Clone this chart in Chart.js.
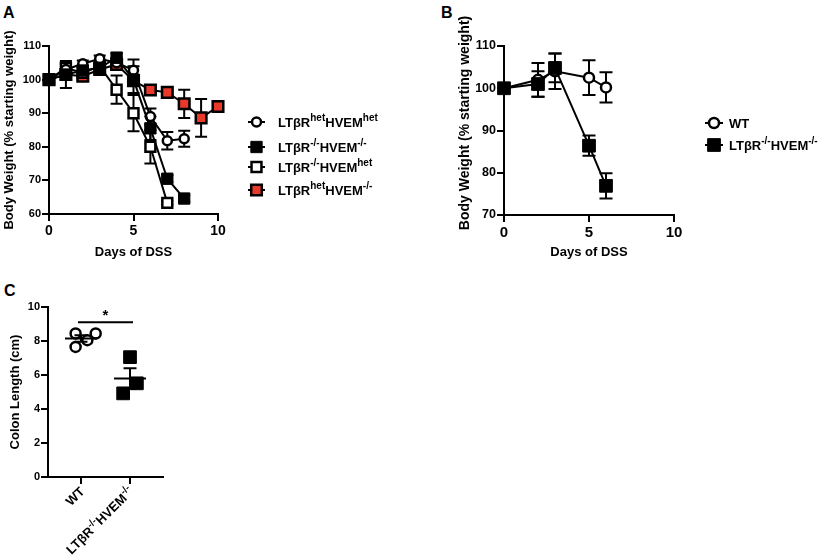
<!DOCTYPE html>
<html><head><meta charset="utf-8">
<script src="https://cdn.jsdelivr.net/npm/chart.js@4"></script>
<style>
html,body{margin:0;padding:0;background:#fff;width:829px;height:556px;overflow:hidden;position:relative}
canvas{position:absolute}
.lbl{position:absolute;font:bold 16px "Liberation Sans",Arial,sans-serif;color:#000;line-height:16px}
</style></head><body>
<div class="lbl" style="left:3px;top:5px">A</div>
<div class="lbl" style="left:441px;top:5px">B</div>
<div class="lbl" style="left:4px;top:283px">C</div>
<canvas id="cA" width="440" height="270" style="left:0;top:0"></canvas>
<canvas id="cB" width="389" height="270" style="left:440px;top:0"></canvas>
<canvas id="cC" width="240" height="286" style="left:0;top:270px"></canvas>
<script>
const FONT = '"Liberation Sans", Arial, sans-serif';

// ---------- Panel A data ----------
const daysA = [0,1,2,3,4,5,6,7,8,9,10];
const hetHetA    = [100,103.0,104.7,106.2,105.0,102.8,89.0,81.8,82.4];
const hetHetErrA = [0,1.5,1.0,1.0,1.5,3.2,2.4,2.6,2.4];
const koKoA      = [100,101.5,102.7,103.5,106.5,100.0,85.5,70.5,64.6];
const koKoErrA   = [0,4.0,1.5,1.5,1.5,4.0,3.5,1.0,1.0];
const koHetA     = [100,103.5,102.0,104.0,97.0,90.0,80.0,63.3];
const koHetErrA  = [0,1.5,1.5,1.0,4.2,5.4,5.0,0.5];
const hetKoA     = [100,101.5,101.0,103.0,104.5,99.7,96.9,96.2,92.8,88.6,92.0];
const hetKoErrA  = [0,1.0,1.0,1.0,1.0,1.0,0.8,0.8,4.2,5.6,0.5];
const legendA = ['LTβR^{het}HVEM^{het}','LTβR^{-/-}HVEM^{-/-}','LTβR^{-/-}HVEM^{het}','LTβR^{het}HVEM^{-/-}'];
const yTicksA = [60,70,80,90,100,110];
const xTicksA = [0,5,10];
const yTitleA = 'Body Weight (% starting weight)';
const xTitleA = 'Days of DSS';

// ---------- Panel B data ----------
const daysB = [0,2,3,5,6];
const wtB    = [100,102.0,104.0,102.5,100.2];
const wtErrB = [0,4.0,4.2,4.1,3.6];
const koB    = [100,101.0,104.8,86.4,76.9];
const koErrB = [0,3.0,3.4,2.4,3.0];
const legendB = ['WT','LTβR^{-/-}HVEM^{-/-}'];
const yTicksB = [70,80,90,100,110];
const xTicksB = [0,5,10];
const yTitleB = 'Body Weight (% starting weight)';
const xTitleB = 'Days of DSS';

// ---------- Panel C data ----------
const groupsC = ['WT','LTβR^{-/-}HVEM^{-/-}'];
const groupPosC = [1,2];
const wtPosC = [0.89,0.89,1.13,1.30];
const wtLenC = [8.44,7.65,8.05,8.44];
const koPosC = [1.86,2.00,2.14];
const koLenC = [4.92,7.05,5.51];
const meanC = [8.15,5.80];
const semC  = [0.19,0.60];
const yTicksC = [0,2,4,6,8,10];
const yTitleC = 'Colon Length (cm)';
const sigLevelC = 9.1;
const sigLabelC = '*';

// ---------- helpers ----------
function parseRich(s){
  const segs=[]; const re=/\^\{([^}]*)\}|([^^]+)/g; let m;
  while((m=re.exec(s))){ if(m[1]!==undefined) segs.push({t:m[1],sup:true}); else segs.push({t:m[2],sup:false}); }
  return segs;
}
function drawRich(ctx, text, x, y, size, supSize, align){
  const segs=parseRich(text);
  let total=0;
  segs.forEach(s=>{ ctx.font=`bold ${s.sup?supSize:size}px ${FONT}`; s.w=ctx.measureText(s.t).width; total+=s.w; });
  let cx = align==='right' ? x-total : x;
  ctx.fillStyle='#000'; ctx.textAlign='left'; ctx.textBaseline='alphabetic';
  segs.forEach(s=>{ ctx.font=`bold ${s.sup?supSize:size}px ${FONT}`; ctx.fillText(s.t,cx,s.sup? y-size*0.40 : y); cx+=s.w; });
}
function drawMarker(ctx,d,x,y){
  ctx.save(); ctx.fillStyle=d.pointBackgroundColor; ctx.strokeStyle=d.pointBorderColor; ctx.lineWidth=d.pointBorderWidth;
  ctx.beginPath();
  if(d.pointStyle==='circle') ctx.arc(x,y,d.pointRadius,0,Math.PI*2);
  else { const s=d.pointRadius*Math.SQRT1_2; ctx.rect(x-s,y-s,2*s,2*s); }
  ctx.fill(); ctx.stroke(); ctx.restore();
}
function ds(label, xs, ys, errs, style, order, showLine){
  return Object.assign({label, data: ys.map((y,i)=>({x:xs[i], y})), err: errs, showLine: showLine!==false,
    borderColor:'#000', borderWidth:2, tension:0, clip:false, order}, style);
}
const errorBars = {
  id:'errorBars',
  beforeDatasetsDraw(chart, args, o){
    const ctx=chart.ctx, xs=chart.scales.x, ys=chart.scales.y;
    ctx.save(); ctx.strokeStyle='#000'; ctx.lineWidth=o.lineWidth||2;
    chart.data.datasets.forEach(d=>{
      if(!d.err) return;
      d.data.forEach((p,i)=>{
        const e=d.err[i]; if(!e) return;
        const px=xs.getPixelForValue(p.x), y1=ys.getPixelForValue(p.y+e), y2=ys.getPixelForValue(p.y-e), w=o.cap;
        ctx.beginPath(); ctx.moveTo(px,y1); ctx.lineTo(px,y2);
        ctx.moveTo(px-w,y1); ctx.lineTo(px+w,y1); ctx.moveTo(px-w,y2); ctx.lineTo(px+w,y2); ctx.stroke();
      });
    });
    ctx.restore();
  }
};
const richLegend = {
  id:'richLegend',
  afterDraw(chart, args, o){
    if(!o.items) return;
    const ctx=chart.ctx;
    o.items.forEach((it,k)=>{
      const d=chart.data.datasets[it.ds]; const y=o.rows[k];
      ctx.save(); ctx.strokeStyle='#000'; ctx.lineWidth=2;
      ctx.beginPath(); ctx.moveTo(o.x0,y); ctx.lineTo(o.x1,y); ctx.stroke();
      drawMarker(ctx, d, (o.x0+o.x1)/2, y);
      drawRich(ctx, it.text, o.tx, y+o.size*0.36, o.size, o.sup, 'left');
      ctx.restore();
    });
  }
};
const yTitle = {
  id:'yTitle',
  afterDraw(chart,args,o){
    if(!o.text) return;
    const ctx=chart.ctx;
    ctx.save(); ctx.translate(o.x,o.y); ctx.rotate(-Math.PI/2);
    ctx.font=`bold ${o.size}px ${FONT}`; ctx.fillStyle='#000'; ctx.textAlign='center'; ctx.textBaseline='middle';
    ctx.fillText(o.text,0,0); ctx.restore();
  }
};
const richXLabels = {
  id:'richXLabels',
  afterDraw(chart,args,o){
    if(!o.labels) return;
    const ctx=chart.ctx, xs=chart.scales.x;
    o.labels.forEach((t,i)=>{
      const x=xs.getPixelForValue(o.values[i]);
      ctx.save(); ctx.translate(x+o.dx, xs.top+o.dy); ctx.rotate(-Math.PI/4);
      drawRich(ctx, t, 0, o.size*0.36, o.size, o.sup, 'right');
      ctx.restore();
    });
  }
};
const meanSem = {
  id:'meanSem',
  afterDatasetsDraw(chart,args,o){
    if(!o.means) return;
    const ctx=chart.ctx, xs=chart.scales.x, ys=chart.scales.y;
    ctx.save(); ctx.strokeStyle='#000'; ctx.lineWidth=2;
    o.means.forEach((m,i)=>{
      const xc=xs.getPixelForValue(o.pos[i]);
      const ym=ys.getPixelForValue(m), yt=ys.getPixelForValue(m+o.sems[i]), yb=ys.getPixelForValue(m-o.sems[i]);
      ctx.beginPath(); ctx.moveTo(xc-o.half,ym); ctx.lineTo(xc+o.half,ym);
      ctx.moveTo(xc,yt); ctx.lineTo(xc,yb);
      ctx.moveTo(xc-o.cap,yt); ctx.lineTo(xc+o.cap,yt); ctx.moveTo(xc-o.cap,yb); ctx.lineTo(xc+o.cap,yb);
      ctx.stroke();
    });
    const y=ys.getPixelForValue(o.sigLevel);
    const x1=xs.getPixelForValue(o.pos[0])-o.sigExt, x2=xs.getPixelForValue(o.pos[1])+o.sigExt;
    ctx.beginPath(); ctx.moveTo(x1,y); ctx.lineTo(x2,y); ctx.stroke();
    ctx.fillStyle='#000'; ctx.font=`bold 15px ${FONT}`; ctx.textAlign='center'; ctx.textBaseline='alphabetic';
    ctx.fillText(o.sigLabel,(x1+x2)/2, y-2);
    ctx.restore();
  }
};
function yScale(min,max,ticks,title,width,titlePad,tickSize){
  return {type:'linear', min, max,
    afterBuildTicks: s=>{ s.ticks = ticks.map(v=>({value:v})); },
    afterFit: s=>{ s.width = width; },
    grid:{display:true, drawOnChartArea:false, drawTicks:true, tickLength:7, color:'#000', lineWidth:2},
    border:{display:true, color:'#000', width:2},
    ticks:{color:'#000', font:{family:FONT, size:tickSize||11, weight:'bold'}, padding:1},
    title:{display:!!title, text:title||'', color:'#000', font:{family:FONT,size:13,weight:'bold'}, padding:{top:titlePad,bottom:0}}
  };
}
function xScale(min,max,ticks,title,height,opts){
  opts=opts||{};
  return {type:'linear', min, max,
    afterBuildTicks: s=>{ s.ticks = ticks.map(v=>({value:v})); },
    afterFit: s=>{ s.height = height; },
    grid:{display:true, drawOnChartArea:false, drawTicks:true, tickLength:7, color:'#000', lineWidth:2},
    border:{display:true, color:'#000', width:2},
    ticks:{color:'#000', font:{family:FONT, size:opts.tickSize||13, weight:'bold'}, padding:2, maxRotation:0,
      callback: opts.noLabels ? (()=>'') : (v=>String(v))},
    title:{display:!!title, text:title||'', color:'#000', font:{family:FONT,size:13,weight:'bold'}, padding:{top:0,bottom:10}}
  };
}
const sCircle = {pointStyle:'circle', pointRadius:4.5, pointBackgroundColor:'#fff', pointBorderColor:'#000', pointBorderWidth:2.5};
const sFilled = {pointStyle:'rect', pointRadius:8, pointBackgroundColor:'#000', pointBorderColor:'#000', pointBorderWidth:1};
const sOpenSq = {pointStyle:'rect', pointRadius:7, pointBackgroundColor:'#fff', pointBorderColor:'#000', pointBorderWidth:2.5};
const sRed    = {pointStyle:'rect', pointRadius:7.5, pointBackgroundColor:'#e8392a', pointBorderColor:'#000', pointBorderWidth:2.5};
const base = {responsive:false, animation:false, events:[], maintainAspectRatio:false};

// ---------- Chart A ----------
new Chart(document.getElementById('cA'), {
  type:'scatter',
  data:{datasets:[
    ds(legendA[1], daysA, koKoA, koKoErrA, sFilled, 0),
    ds(legendA[0], daysA, hetHetA, hetHetErrA, sCircle, 1),
    ds(legendA[2], daysA, koHetA, koHetErrA, sOpenSq, 2),
    ds(legendA[3], daysA, hetKoA, hetKoErrA, sRed, 3)
  ]},
  options:Object.assign({}, base, {
    layout:{padding:{top:46,right:222,left:0,bottom:0}},
    plugins:{legend:{display:false}, tooltip:{enabled:false},
      errorBars:{cap:6,lineWidth:2},
      yTitle:{text:yTitleA, x:9.5, y:130, size:13},
      richLegend:{x0:248,x1:265,tx:278,rows:[122,147,167,190],size:13,sup:10,
        items:[{ds:1,text:legendA[0]},{ds:0,text:legendA[1]},{ds:2,text:legendA[2]},{ds:3,text:legendA[3]}]}},
    scales:{x: xScale(0,10,xTicksA,xTitleA,56,{tickSize:14}), y: yScale(60,110,yTicksA,'',49,2,11)}
  }),
  plugins:[errorBars, richLegend, yTitle]
});

// ---------- Chart B ----------
new Chart(document.getElementById('cB'), {
  type:'scatter',
  data:{datasets:[
    ds(legendB[1], daysB, koB, koErrB, Object.assign({}, sFilled, {pointRadius:9}), 0),
    ds(legendB[0], daysB, wtB, wtErrB, Object.assign({}, sCircle, {pointRadius:5}), 1)
  ]},
  options:Object.assign({}, base, {
    layout:{padding:{top:46,right:155,left:15,bottom:0}},
    plugins:{legend:{display:false}, tooltip:{enabled:false},
      errorBars:{cap:6.5,lineWidth:2},
      yTitle:{text:yTitleB, x:25, y:123, size:14},
      richLegend:{x0:265,x1:283,tx:289,rows:[123,145],size:13,sup:10,
        items:[{ds:1,text:legendB[0]},{ds:0,text:legendB[1]}]}},
    scales:{x: xScale(0,10,xTicksB,xTitleB,55,{tickSize:15}), y: yScale(70,110,yTicksB,'',49,2,12.5)}
  }),
  plugins:[errorBars, richLegend, yTitle]
});

// ---------- Chart C ----------
new Chart(document.getElementById('cC'), {
  type:'scatter',
  data:{datasets:[
    ds(groupsC[0], wtPosC, wtLenC, null, Object.assign({}, sCircle, {pointRadius:5}), 1, false),
    ds(groupsC[1], koPosC, koLenC, null, Object.assign({}, sFilled, {pointRadius:9}), 0, false)
  ]},
  options:Object.assign({}, base, {
    layout:{padding:{top:37,right:77,left:0,bottom:0}},
    plugins:{legend:{display:false}, tooltip:{enabled:false},
      meanSem:{means:meanC, sems:semC, pos:groupPosC, half:16, cap:6.5, sigLevel:sigLevelC, sigLabel:sigLabelC, sigExt:3},
      richXLabels:{labels:groupsC, values:groupPosC, dx:1, dy:12, size:13, sup:10}},
    scales:{x: xScale(0.327,2.673,groupPosC,'',79,{noLabels:true}), y: yScale(0,10,yTicksC,yTitleC,48,8,11)}
  }),
  plugins:[meanSem, richXLabels]
});
</script>
</body></html>
